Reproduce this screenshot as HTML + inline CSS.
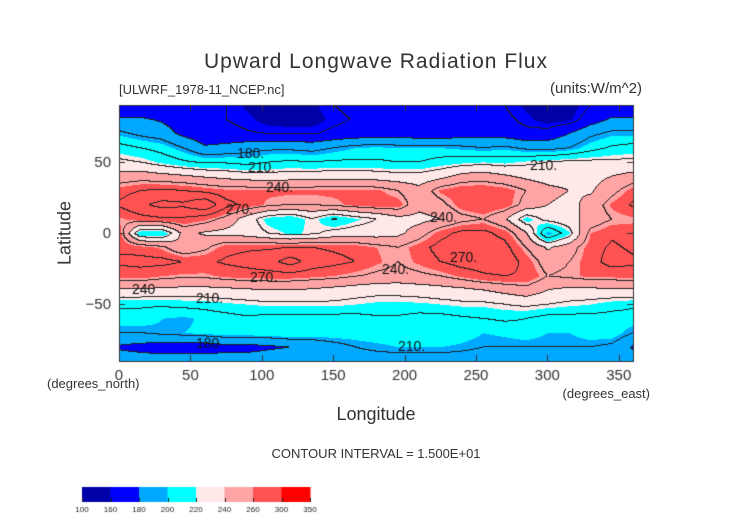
<!DOCTYPE html>
<html><head><meta charset="utf-8">
<style>
body{margin:0;background:#fff;}
#wrap{position:relative;width:752px;height:532px;font-family:"Liberation Sans",sans-serif;color:#333;overflow:hidden;}
.t{position:absolute;white-space:nowrap;}
</style></head><body>
<div id="wrap">
<div class="t" style="left:0;width:752px;text-align:center;top:50px;font-size:21px;letter-spacing:1px;">Upward Longwave Radiation Flux</div>
<div class="t" style="left:119px;top:82px;font-size:13px;">[ULWRF_1978-11_NCEP.nc]</div>
<div class="t" style="right:110px;top:80px;font-size:15px;">(units:W/m^2)</div>
<canvas id="cv" width="752" height="532" style="position:absolute;left:0;top:0;"></canvas>
<div class="t" style="left:65px;top:233px;font-size:18px;transform:translate(-50%,-50%) rotate(-90deg);">Latitude</div>
<div class="t" style="left:0;width:752px;text-align:center;top:404px;font-size:18px;">Longitude</div>
<div class="t" style="left:47px;top:376px;font-size:13px;">(degrees_north)</div>
<div class="t" style="right:102px;top:386px;font-size:13px;">(degrees_east)</div>
<div class="t" style="left:0;width:752px;text-align:center;top:446px;font-size:13px;">CONTOUR INTERVAL = 1.500E+01</div>
</div>
<script>
const lons=[0,15,30,45,60,75,90,105,120,135,150,165,180,195,210,225,240,255,270,285,300,315,330,345,360];
const lats=[90,80,70,60,50,40,30,20,10,0,-10,-20,-30,-40,-50,-60,-70,-80,-90];
const r90=[168,168,165,165,165,165,158,155,155,158,165,168,168,168,168,168,168,168,165,158,155,155,165,168,168];
const r80=[182,182,178,170,168,165,162,156,156,156,162,166,168,168,168,170,170,170,168,162,156,158,172,182,182];
const r70=[198,192,188,176,170,168,166,165,164,164,168,170,172,172,170,170,172,174,172,168,170,180,192,198,198];
const r60=[215,210,205,195,182,185,190,192,192,190,195,200,202,200,200,200,198,195,198,192,190,195,205,212,215];
const r50=[228,225,218,212,208,208,205,210,212,210,212,212,212,210,210,215,218,220,218,222,225,228,228,228,228];
const r40=[245,248,245,242,238,235,232,230,232,232,234,234,232,230,230,235,245,248,242,236,232,232,235,240,245];
const r30=[265,270,272,270,266,262,262,262,262,262,262,262,262,255,245,262,268,268,265,255,245,240,238,250,265];
const r20=[272,282,290,288,298,275,265,258,255,255,258,262,265,265,245,250,265,270,265,250,240,235,245,262,272];
const r10=[258,265,268,268,262,250,232,215,210,225,208,218,225,235,235,240,250,255,242,215,230,235,245,255,258];
const r0=[265,210,210,245,238,235,232,225,218,222,230,232,232,236,248,265,274,274,265,242,195,218,260,268,265];
const rm10=[268,265,258,242,252,266,268,268,270,270,268,266,260,255,265,275,280,280,275,255,238,248,265,272,268];
const rm20=[272,274,274,270,268,272,275,280,292,278,274,270,262,255,262,270,276,278,280,265,248,255,265,275,272];
const rm30=[264,264,260,258,258,262,264,264,264,262,260,256,252,250,252,255,262,268,270,268,255,258,262,262,264];
const rm40=[238,238,236,235,235,236,238,240,240,238,235,232,230,230,232,234,236,240,245,250,240,236,236,238,238];
const rm50=[212,212,212,214,215,218,220,222,222,222,222,220,218,218,218,220,222,222,225,228,225,222,220,215,212];
const rm60=[205,205,200,198,202,205,208,205,205,205,205,205,208,208,205,205,208,210,212,210,205,205,205,205,205];
const rm70=[195,195,198,200,202,205,205,205,208,205,205,205,205,205,208,208,205,200,202,205,200,200,205,205,195];
const rm80=[178,175,172,172,172,175,175,178,180,185,190,195,198,200,200,200,198,195,195,195,195,195,195,192,178];
const rm90=[188,188,188,188,188,188,188,188,188,188,188,188,188,188,188,188,188,188,188,188,188,188,188,188,188];
const grid=[r90,r80,r70,r60,r50,r40,r30,r20,r10,r0,rm10,rm20,rm30,rm40,rm50,rm60,rm70,rm80,rm90];
const levels=[100,160,180,200,220,240,260,300,350];
const colors=["#0000a8","#0000ff","#00a8ff","#00ffff","#ffe8e8","#ffa4a4","#ff5252","#ff0000"];
const xTicks=[0,50,100,150,200,250,300,350];
const yTicks=[50,0,-50];

const X0=119,X1=633,Y0=105,Y1=361;
const xs=lon=>X0+(lon/360)*(X1-X0);
const ys=lat=>Y0+((90-lat)/180)*(Y1-Y0);
function val(lon,lat){
  let fi=lon/15, fj=(90-lat)/10;
  let i=Math.min(Math.floor(fi),lons.length-2), j=Math.min(Math.floor(fj),lats.length-2);
  let a=fi-i,b=fj-j;
  return grid[j][i]*(1-a)*(1-b)+grid[j][i+1]*a*(1-b)+grid[j+1][i]*(1-a)*b+grid[j+1][i+1]*a*b;
}
function col(v){for(let k=levels.length-2;k>=0;k--){if(v>=levels[k])return colors[k];}return colors[0];}
const cv=document.getElementById('cv'),c=cv.getContext('2d');
const W=X1-X0,H=Y1-Y0,V=[];
for(let py=0;py<=H;py++){V[py]=[];for(let px=0;px<=W;px++){V[py][px]=val(px/W*360,90-py/H*180);}}
for(let py=0;py<H;py++)for(let px=0;px<W;px++){c.fillStyle=col(V[py][px]);c.fillRect(X0+px,Y0+py,1,1);}
c.fillStyle="#222";
for(let py=0;py<H;py++)for(let px=0;px<W;px++){
  let k=Math.floor(V[py][px]/15);
  if(k!==Math.floor(V[py][px+1]/15)||k!==Math.floor(V[py+1][px]/15)){c.fillRect(X0+px,Y0+py,1,1);}
}
c.strokeStyle="#333";c.lineWidth=1;c.strokeRect(X0+0.5,Y0+0.5,W,H);
c.fillStyle="#333";c.font="15px 'Liberation Sans', sans-serif";c.textAlign="center";
xTicks.forEach(t=>{let x=xs(t);c.fillRect(Math.round(x),Y1-6,1,6);c.fillRect(Math.round(x),Y0,1,6);c.fillText(t,x,380);});
c.textAlign="right";
yTicks.forEach(t=>{let y=ys(t);c.fillRect(X0,Math.round(y),6,1);c.fillRect(X1-6,Math.round(y),6,1);c.fillText(t===-50?"\u221250":t,X0-8,y+5);});
const CB0=82,CB1=310,CBY=487,CBH=15,sw=(CB1-CB0)/colors.length;
colors.forEach((cl,k)=>{c.fillStyle=cl;c.fillRect(CB0+k*sw,CBY,sw+0.5,CBH);});
c.fillStyle="#222";c.font="8px 'Liberation Sans', sans-serif";c.textAlign="center";
levels.forEach((l,k)=>{c.fillRect(Math.round(CB0+k*sw),CBY+CBH-4,1,4);c.fillText(l,CB0+k*sw,512);});
c.font="14px 'Liberation Sans', sans-serif";c.fillStyle="#111";c.textAlign="left";
[["180.",237,158],["210.",248,172],["240.",266,192],["270.",226,214],["240",132,294],["210.",196,303],["270.",250,282],["240.",382,274],["270.",450,262],["240.",430,222],["210.",530,170],["210.",398,351],["180",196,348]].forEach(l=>c.fillText(l[0],l[1],l[2]));
</script>
</body></html>
